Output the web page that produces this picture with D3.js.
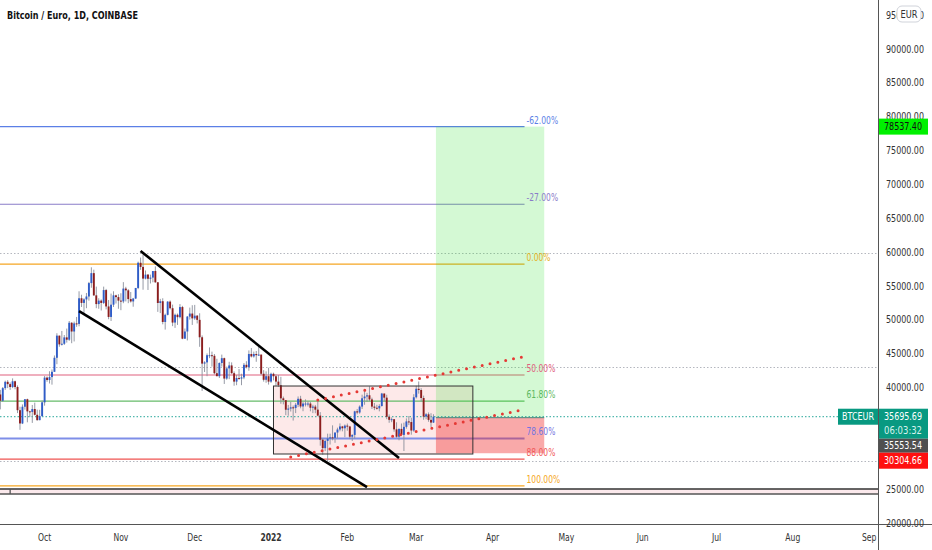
<!DOCTYPE html>
<html><head><meta charset="utf-8">
<script src="https://cdn.jsdelivr.net/npm/d3@7"></script>
<style>
html,body{margin:0;padding:0;background:#fff;}
svg{display:block;font-family:"Liberation Sans Narrow","DejaVu Sans Condensed",sans-serif;}
</style></head><body>
<svg id="chart" width="932" height="550"></svg>
<script>
const title = "Bitcoin / Euro, 1D, COINBASE";
const firstDay = "2021-09-13";
// daily OHLC, thousands of EUR (Sep 13 2021 .. Mar 8 2022)
const open = [
 38.98,38.05,39.92,40.85,40.51,40.08,40.93,40.08,36.66,34.70,37.17,38.28,36.49,36.40,36.83,35.98,35.19,35.78,
 37.82,41.47,41.12,41.55,42.33,44.40,47.67,46.38,46.47,47.41,47.07,49.57,48.28,49.48,49.40,53.19,52.50,53.02,53.45,55.43,56.90,53.62,52.33,52.84,52.50,54.40,51.98,50.43,52.24,53.62,53.36,
 52.84,52.72,54.62,54.36,53.07,52.72,53.15,54.71,58.43,57.82,56.09,56.68,56.07,56.24,57.21,55.55,52.49,52.75,49.69,50.74,52.69,51.72,49.60,50.75,50.40,51.89,47.22,48.28,50.48,50.93,
 50.22,50.62,50.00,47.43,43.54,43.72,44.78,44.78,44.69,42.12,41.68,43.63,44.34,41.33,42.83,43.27,42.12,40.88,41.42,41.33,41.50,43.36,43.01,44.96,44.60,44.96,44.78,44.87,42.04,41.15,41.68,
 40.88,42.03,41.67,40.88,40.35,38.41,38.14,36.73,36.90,37.08,36.99,37.46,38.34,37.21,37.64,37.64,37.64,37.02,37.19,36.74,35.86,32.30,31.06,32.12,32.48,32.65,32.57,33.36,33.81,34.26,33.99,
 34.38,34.25,32.74,33.01,36.49,36.32,37.19,38.42,38.68,38.86,38.25,37.19,37.02,36.93,37.28,39.12,38.51,35.68,35.24,35.33,33.83,32.74,33.89,33.01,34.20,35.00,34.91,33.66,
 38.57,39.82,39.64,38.46,35.71,36.05,35.23,34.83];
const high = [
 39.66,40.08,41.02,41.10,40.76,41.36,41.02,40.32,37.17,37.51,38.28,38.36,36.57,37.43,37.77,36.74,36.72,38.08,
 41.72,41.64,42.41,42.67,44.74,48.02,47.67,48.36,47.76,48.71,49.83,49.66,49.74,50.43,54.22,53.71,53.19,53.97,55.60,57.76,57.41,54.91,53.19,53.02,54.91,54.57,52.93,53.88,54.22,53.71,53.79,
 53.93,55.57,54.88,54.54,54.11,53.24,54.71,58.60,59.20,59.64,57.29,56.77,56.68,57.21,57.90,55.55,53.10,53.19,50.92,52.77,52.86,52.25,50.93,50.93,52.33,52.07,48.72,50.57,51.81,52.16,
 52.21,50.71,50.97,47.70,43.89,45.04,45.93,45.31,44.96,44.25,43.72,44.87,44.42,43.10,43.81,43.72,42.39,41.86,42.74,42.04,43.63,43.89,45.49,45.84,45.31,45.40,46.02,44.87,42.57,42.39,42.92,
 42.20,42.20,41.94,41.85,41.59,38.67,38.14,37.43,37.88,37.35,37.72,38.69,38.78,37.90,38.25,37.99,37.89,37.46,37.44,38.24,36.37,32.57,32.30,33.19,33.19,34.42,33.36,34.08,34.71,34.35,34.55,
 34.69,34.34,33.10,36.58,36.84,37.37,38.95,39.74,39.21,40.18,38.51,37.72,37.46,37.54,39.21,39.12,38.94,36.04,35.59,35.33,34.87,33.98,34.69,34.82,35.45,35.80,35.54,39.02,
 40.27,40.90,39.91,38.81,36.23,36.33,36.21,36.06];
const low = [
 36.78,37.88,39.66,39.92,39.66,39.92,39.75,36.23,33.76,34.61,36.74,34.87,35.64,34.78,35.89,35.11,35.17,35.75,
 37.33,40.86,40.60,40.43,42.33,43.45,46.03,46.21,46.29,46.64,46.90,46.55,46.81,48.97,49.05,51.90,50.78,51.72,52.84,54.74,53.53,51.72,51.64,51.38,52.33,51.55,50.09,49.83,51.90,52.41,51.64,
 51.43,52.46,52.72,52.46,52.55,51.94,53.07,54.54,57.39,54.45,55.98,54.41,55.37,55.55,55.46,51.18,51.00,49.34,48.56,50.66,51.54,49.07,48.81,49.25,50.22,47.14,47.22,46.96,50.04,49.25,
 50.00,49.47,46.02,39.50,42.30,41.68,44.34,43.10,41.95,41.68,41.42,43.10,40.53,41.15,41.24,42.04,40.27,40.35,41.15,40.35,41.24,42.83,42.48,44.45,44.42,43.81,44.69,41.86,40.88,40.71,40.44,
 40.70,41.06,40.26,40.09,37.61,37.52,35.93,35.84,36.46,35.13,36.23,37.12,36.94,36.51,37.21,37.21,36.49,36.23,36.21,35.77,31.42,30.09,30.62,29.12,31.59,32.21,31.84,32.47,33.54,33.54,32.68,
 33.63,32.39,32.12,32.46,36.05,36.14,36.84,37.46,37.89,37.98,36.84,36.67,36.75,36.49,37.19,37.98,35.33,34.80,34.89,33.48,32.57,32.21,32.83,30.63,33.93,34.46,33.04,33.48,
 38.39,39.10,37.92,35.25,35.32,34.95,34.19,34.77];
const close = [
 38.05,39.92,40.85,40.51,40.08,40.93,40.08,36.66,34.70,37.17,38.28,36.49,36.40,36.83,35.98,35.19,35.78,37.82,
 41.47,41.12,41.55,42.33,44.40,47.67,46.38,46.47,47.41,47.07,49.57,48.28,49.48,49.40,53.19,52.50,53.02,53.45,55.43,56.90,53.62,52.33,52.84,52.50,54.40,51.98,50.43,52.24,53.62,53.36,52.84,
 52.72,54.62,54.36,53.07,52.72,53.15,54.71,58.43,57.82,56.09,56.68,56.07,56.24,57.21,55.55,52.49,52.75,49.69,50.74,52.69,51.72,49.60,50.75,50.40,51.89,47.22,48.28,50.48,50.93,50.22,
 50.62,50.00,47.43,43.54,43.72,44.78,44.78,44.69,42.12,41.68,43.63,44.34,41.33,42.83,43.27,42.12,40.88,41.42,41.33,41.50,43.36,43.01,44.96,44.60,44.96,44.78,44.87,42.04,41.15,41.68,40.88,
 42.03,41.67,40.88,40.35,38.41,38.14,36.73,36.90,37.08,36.99,37.46,38.34,37.21,37.64,37.64,37.64,37.02,37.19,36.74,35.86,32.30,31.06,32.12,32.48,32.65,32.57,33.36,33.81,34.26,33.99,34.38,
 34.25,32.74,33.01,36.49,36.32,37.19,38.42,38.68,38.86,38.25,37.19,37.02,36.93,37.28,39.12,38.51,35.68,35.24,35.33,33.83,32.74,33.89,33.01,34.20,35.00,34.91,33.66,38.57,
 39.82,39.64,38.46,35.71,36.05,35.23,34.83,35.70];
const UNIT = 1000;

const monthLabels = ["Oct","Nov","Dec","2022","Feb","Mar","Apr","May","Jun","Jul","Aug","Sep"];
const priceTicks = [20000,25000,30000,35000,40000,45000,50000,55000,60000,65000,70000,75000,80000,85000,90000,95000];

const fibRatios = [-0.62,-0.27,0,0.5,0.618,0.786,0.88,1];
const fibLabels = ["-62.00%","-27.00%","0.00%","50.00%","61.80%","78.60%","88.00%","100.00%"];
const fibColors = ["#5b7fe6","#8a7cc8","#f5a623","#e0607e","#66bb6a","#7e8ee8","#ef5350","#f5a623"];
const fibTextColors = ["#5b7fe6","#8a7cc8","#e5b020","#e0607e","#5cb860","#7474e0","#f05a5a","#f5a623"];
const fibHigh = 58230, fibLow = 25490;
const fibSpan = ["2021-09-01","2022-04-14"];

const hLines = [59870, 43030, 29150];
const lastPrice = 35695.69, countdown = "06:03:32", symbol = "BTCEUR";
const entryPrice = 35553.54, targetPrice = 78537.40, stopPrice = 30304.66;
const positionSpan = ["2022-03-09","2022-04-22"];
const boxSpan = ["2022-01-02","2022-03-24"], boxPrices = [40230, 30190];
const trendA = [["2021-11-09",60170],["2022-02-22",29600]];
const trendB = [["2021-10-15",51300],["2022-02-09",25310]];
const channelUpper = [["2022-01-20",38160],["2022-04-13",44510]];
const channelLower = [["2022-01-09",29740],["2022-04-13",36690]];
const bandPrices = [25020, 24280], bandStart = "2021-09-17";

// ---------- setup ----------
const W = 932, H = 550, plotR = 878.5, plotB = 524.5;
const svg = d3.select("#chart");
const parse = d3.utcParse("%Y-%m-%d");
const x = d3.scaleUtc().domain([Date.UTC(2021,9,1), Date.UTC(2022,8,1)]).range([44.6, 869.1]);
const y = d3.scaleLinear().domain([20000, 90000]).range([523, 49]);
const days = open.map((_, i) => d3.utcDay.offset(parse(firstDay), i));
const candles = days.map((d, i) => ({d, o: open[i]*UNIT, h: high[i]*UNIT, l: low[i]*UNIT, c: close[i]*UNIT}));

// squeeze a text to a given width (condensed look)
function fit(sel, target) {
  sel.each(function(d, i) {
    const n = this.getComputedTextLength();
    const t = typeof target === "function" ? target(n, d, i) : target;
    if (n > t) { this.setAttribute("textLength", t); this.setAttribute("lengthAdjust", "spacingAndGlyphs"); }
  });
  return sel;
}

svg.append("defs").append("clipPath").attr("id","plot")
  .append("rect").attr("x",0).attr("y",0).attr("width",plotR).attr("height",plotB);
const g = svg.append("g").attr("clip-path","url(#plot)");

// dotted horizontal lines
g.selectAll(".hl").data(hLines).join("line")
  .attr("x1",0).attr("x2",plotR).attr("y1",d=>Math.round(y(d))+0.5).attr("y2",d=>Math.round(y(d))+0.5)
  .attr("stroke","#b4b7bf").attr("stroke-width",1).attr("stroke-dasharray","1.5,2");

// pink rectangle (fill)
const bx0 = x(parse(boxSpan[0])), bx1 = x(parse(boxSpan[1]));
g.append("rect").attr("x",bx0).attr("y",y(boxPrices[0])).attr("width",bx1-bx0)
  .attr("height",y(boxPrices[1])-y(boxPrices[0])).attr("fill","rgba(240,70,70,0.12)");

// fib lines
const fibX0 = x(parse(fibSpan[0])), fibX1 = x(parse(fibSpan[1]));
const fibPrice = r => fibHigh - r*(fibHigh - fibLow);
g.selectAll(".fib").data(fibRatios).join("line")
  .attr("x1",fibX0).attr("x2",fibX1)
  .attr("y1",r=>y(fibPrice(r))).attr("y2",r=>y(fibPrice(r)))
  .attr("stroke",(r,i)=>fibColors[i]).attr("stroke-width",(r,i)=> i===5 ? 2 : 1.2);

// position tool zones
const px0 = x(parse(positionSpan[0])), px1 = x(parse(positionSpan[1]));
g.append("rect").attr("x",px0).attr("y",y(targetPrice)).attr("width",px1-px0)
  .attr("height",y(entryPrice)-y(targetPrice)).attr("fill","rgba(40,225,40,0.2)");
g.append("rect").attr("x",px0).attr("y",y(entryPrice)).attr("width",px1-px0)
  .attr("height",y(stopPrice)-y(entryPrice)).attr("fill","rgba(240,40,40,0.4)");
g.append("line").attr("x1",px0).attr("x2",px1).attr("y1",y(entryPrice)).attr("y2",y(entryPrice))
  .attr("stroke","#4f7f78").attr("stroke-width",1);

// current price line
g.append("line").attr("x1",0).attr("x2",plotR).attr("y1",y(lastPrice)).attr("y2",y(lastPrice))
  .attr("stroke","#26a69a").attr("stroke-width",1).attr("stroke-dasharray","1.5,2");

// candles
const upC = "#2f5cc8", dnC = "#8c1d1d", wickC = "#8a8e9c";
const cg = g.append("g");
cg.selectAll(".wick").data(candles).join("line")
  .attr("x1",d=>x(d.d)).attr("x2",d=>x(d.d)).attr("y1",d=>y(d.h)).attr("y2",d=>y(d.l))
  .attr("stroke",wickC).attr("stroke-width",0.9);
cg.selectAll(".body").data(candles).join("rect")
  .attr("x",d=>x(d.d)-0.95).attr("width",1.9)
  .attr("y",d=>y(Math.max(d.o,d.c)))
  .attr("height",d=>Math.max(1, Math.abs(y(d.o)-y(d.c))))
  .attr("fill",d=> d.c>=d.o ? upC : dnC);

// rectangle border
g.append("rect").attr("x",bx0).attr("y",y(boxPrices[0])).attr("width",bx1-bx0)
  .attr("height",y(boxPrices[1])-y(boxPrices[0])).attr("fill","none").attr("stroke","#333").attr("stroke-width",1);

// trend lines
const ln = d3.line().x(p=>x(parse(p[0]))).y(p=>y(p[1]));
[trendA, trendB].forEach(t => g.append("path").attr("d",ln(t)).attr("fill","none")
  .attr("stroke","#000").attr("stroke-width",2.6));
[channelUpper, channelLower].forEach(t => g.append("path").attr("d",ln(t)).attr("fill","none")
  .attr("stroke","#e53935").attr("stroke-width",3).attr("stroke-linecap","round").attr("stroke-dasharray","0,8"));

// bottom band
g.append("rect").attr("x",0).attr("y",y(bandPrices[0])).attr("width",plotR)
  .attr("height",y(bandPrices[1])-y(bandPrices[0])).attr("fill","#fbe9ec");
bandPrices.forEach((p,i) => g.append("line").attr("x1",0).attr("x2",plotR).attr("y1",y(p)).attr("y2",y(p))
  .attr("stroke", i===0 ? "#333" : "#555").attr("stroke-width",1.3));
g.append("line").attr("x1",x(parse(bandStart))).attr("x2",x(parse(bandStart)))
  .attr("y1",y(bandPrices[0])).attr("y2",y(bandPrices[1])).attr("stroke","#555").attr("stroke-width",1.3);

// fib labels
fit(svg.selectAll(".fibl").data(fibRatios).join("text")
  .attr("x",fibX1+2).attr("y",r=>y(fibPrice(r))-3)
  .attr("fill",(r,i)=>fibTextColors[i]).attr("font-size",10).text((r,i)=>fibLabels[i]), n => n*0.84);

// axes lines
svg.append("line").attr("x1",plotR).attr("x2",plotR).attr("y1",0).attr("y2",H).attr("stroke","#555").attr("stroke-width",1);
svg.append("line").attr("x1",0).attr("x2",W).attr("y1",plotB).attr("y2",plotB).attr("stroke","#555").attr("stroke-width",1);

// price badges block on the axis (from the last price downward) hides the tick labels under it
const ly = y(lastPrice);
const badgeTop = ly - 8, badgeBottom = ly + 52;

// right axis labels
fit(svg.selectAll(".pt").data(priceTicks.filter(d => y(d) < badgeTop - 4 || y(d) > badgeBottom + 4)).join("text")
  .attr("x",886).attr("y",d=>y(d)+3.6).attr("fill","#333").attr("font-size",10)
  .text(d=>d3.format(".2f")(d)), 38);

// time axis labels
const months = d3.utcMonths(Date.UTC(2021,9,1), Date.UTC(2022,8,2));
fit(svg.selectAll(".mt").data(months).join("text")
  .attr("x",d=>x(d)).attr("y",541).attr("text-anchor","middle").attr("fill","#333")
  .attr("font-size",10).attr("font-weight",(d,i)=> monthLabels[i]==="2022" ? "bold" : "normal")
  .text((d,i)=>monthLabels[i]), n => n*0.85);

// title
fit(svg.append("text").attr("x",7).attr("y",19).attr("font-size",11).attr("font-weight","bold")
  .attr("fill","#111").text(title), 131);

// EUR pill
svg.append("rect").attr("x",897).attr("y",6).attr("width",24).attr("height",16).attr("rx",5)
  .attr("fill","#fff").attr("stroke","#d0d3da");
fit(svg.append("text").attr("x",909).attr("y",17.5).attr("text-anchor","middle").attr("font-size",10)
  .attr("fill","#333").text("EUR"), 17);

// price badges
const fmt = d3.format(".2f");
const badge = (bx, by, w, h, fill) => svg.append("rect").attr("x",bx).attr("y",by).attr("width",w).attr("height",h).attr("fill",fill);
const label = (tx, tyy, txt, col, wid) => fit(svg.append("text").attr("x",tx).attr("y",tyy).attr("font-size",10).attr("fill",col).text(txt), wid);
const ty = y(targetPrice);
badge(879, ty-8, 49, 16, "#00f000");
label(884, ty+3.6, fmt(targetPrice), "#111", 38);

badge(838, ly-8, 40, 16, "#089981");
label(842, ly+3.6, symbol, "#fff", 32);
badge(879, ly-8, 49, 30, "#089981");
label(884, ly+3.6, fmt(lastPrice), "#fff", 38);
label(884, ly+17.6, countdown, "#d8f3ee", 38);
badge(879, ly+22, 49, 14, "#505050");
label(884, ly+32.6, fmt(entryPrice), "#fff", 38);
badge(879, ly+36, 49, 16, "#ff1010");
label(884, ly+47.6, fmt(stopPrice), "#fff", 38);
</script>
</body></html>
